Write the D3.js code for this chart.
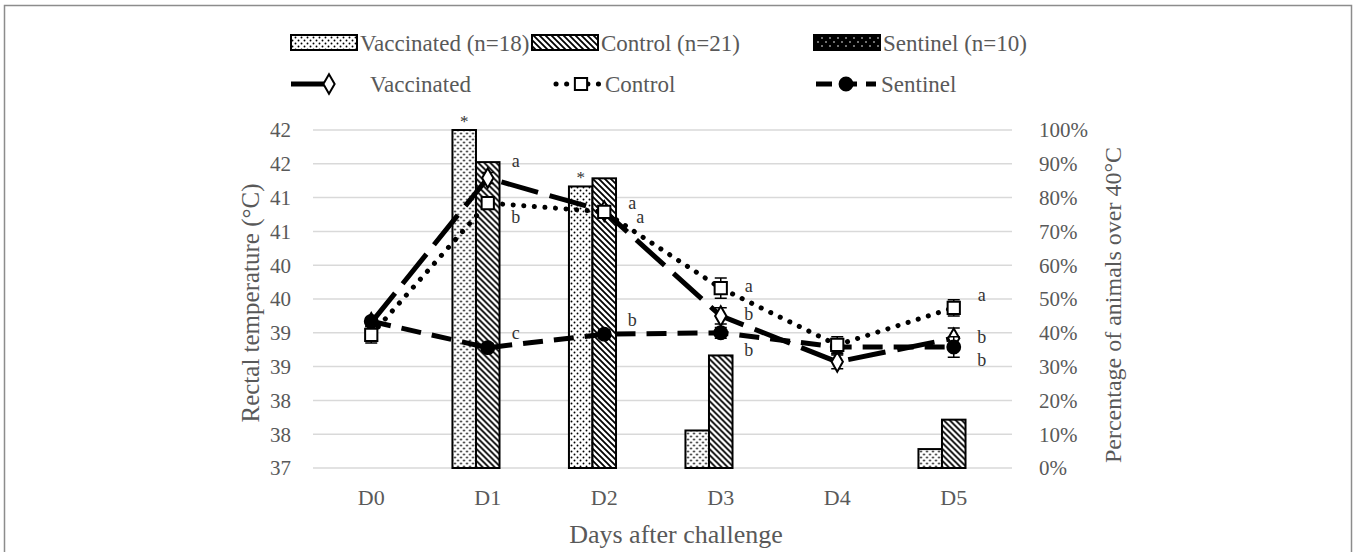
<!DOCTYPE html>
<html>
<head>
<meta charset="utf-8">
<script src="https://cdn.jsdelivr.net/npm/d3@7"></script>
<style>
  body { margin: 0; background: #fff; }
  svg { display: block; font-family: "Liberation Serif", "DejaVu Serif", serif; }
</style>
</head>
<body>
<svg id="chart" width="1354" height="552"></svg>
<script>
// data
const days = ['D0', 'D1', 'D2', 'D3', 'D4', 'D5'];
const groups = ['vacc', 'ctrl', 'sent'];

// % of animals over 40°C (right axis)
const pctVacc = [0, 100, 83.3, 11.1, 0, 5.6];
const pctCtrl = [0, 90.5, 85.7, 33.3, 0, 14.3];
const pctSent = [0, 0, 0, 0, 0, 0];

// mean rectal temperature (left axis)
const tempVacc = [39.15, 41.29, 40.8, 39.25, 38.57, 38.92];
const tempCtrl = [38.97, 40.92, 40.79, 39.66, 38.82, 39.37];
const tempSent = [39.17, 38.78, 38.98, 39.0, 38.79, 38.79];
const errVacc = [0.05, 0.08, 0.08, 0.12, 0.1, 0.15];
const errCtrl = [0.12, 0.08, 0.08, 0.15, 0.12, 0.12];
const errSent = [0.05, 0.06, 0.06, 0.08, 0.1, 0.15];

const leftTicks = [37, 37.5, 38, 38.5, 39, 39.5, 40, 40.5, 41, 41.5, 42];
const rightTicks = [0, 10, 20, 30, 40, 50, 60, 70, 80, 90, 100];

// significance letters: [day, temperature, text, x shift]
const letters = [
  ['D1', 41.55, 'a', 0], ['D1', 40.72, 'b', 0], ['D1', 39.0, 'c', 0],
  ['D2', 40.92, 'a', 0], ['D2', 40.72, 'a', 8], ['D2', 39.2, 'b', 0],
  ['D3', 39.7, 'a', 0], ['D3', 39.28, 'b', 0], ['D3', 38.75, 'b', 0],
  ['D5', 39.57, 'a', 0], ['D5', 38.94, 'b', 0], ['D5', 38.6, 'b', 0]
];
const stars = [['D1', 100], ['D2', 83.3]];

const grey = '#595959';
const svg = d3.select('#chart');

// outer frame
svg.append('rect')
  .attr('x', 4.5).attr('y', 5.5).attr('width', 1347).attr('height', 560)
  .attr('fill', 'none').attr('stroke', '#8c8c8c').attr('stroke-width', 1.5);

const plot = { left: 313, right: 1012, top: 130, bottom: 468 };

const x = d3.scaleBand().domain(days).range([plot.left, plot.right]).padding(0);
const xg = d3.scaleBand().domain(groups)
  .range([x.bandwidth() * 0.197, x.bandwidth() * 0.803]);
const yT = d3.scaleLinear().domain([37, 42]).range([plot.bottom, plot.top]);
const yP = d3.scaleLinear().domain([0, 100]).range([plot.bottom, plot.top]);
const cx = d => x(d) + x.bandwidth() / 2;

// patterns
const defs = svg.append('defs');
const pDots = defs.append('pattern').attr('id', 'dots')
  .attr('patternUnits', 'userSpaceOnUse').attr('width', 6).attr('height', 6);
pDots.append('rect').attr('width', 6).attr('height', 6).attr('fill', '#fff');
pDots.append('circle').attr('cx', 1.5).attr('cy', 1.5).attr('r', 0.95).attr('fill', '#000');
pDots.append('circle').attr('cx', 4.5).attr('cy', 4.5).attr('r', 0.95).attr('fill', '#000');

const pHatch = defs.append('pattern').attr('id', 'hatch')
  .attr('patternUnits', 'userSpaceOnUse').attr('width', 6).attr('height', 6);
pHatch.append('rect').attr('width', 6).attr('height', 6).attr('fill', '#fff');
pHatch.append('path').attr('d', 'M-1,-1L7,7M-1,5L1,7M5,-1L7,1')
  .attr('stroke', '#000').attr('stroke-width', 1.8);

const pSent = defs.append('pattern').attr('id', 'sentdots')
  .attr('patternUnits', 'userSpaceOnUse').attr('width', 8).attr('height', 8);
pSent.append('rect').attr('width', 8).attr('height', 8).attr('fill', '#000');
pSent.append('circle').attr('cx', 2).attr('cy', 2).attr('r', 0.8).attr('fill', '#fff');
pSent.append('circle').attr('cx', 6).attr('cy', 6).attr('r', 0.8).attr('fill', '#fff');

const fills = { vacc: 'url(#dots)', ctrl: 'url(#hatch)', sent: 'url(#sentdots)' };

// gridlines
svg.append('g').selectAll('line').data(rightTicks).join('line')
  .attr('x1', plot.left).attr('x2', plot.right)
  .attr('y1', d => yP(d)).attr('y2', d => yP(d))
  .attr('stroke', '#d9d9d9').attr('stroke-width', 1.5);

// left axis labels
svg.append('g').selectAll('text').data(leftTicks).join('text')
  .attr('x', 291).attr('y', d => yT(d)).attr('dy', '0.35em')
  .attr('text-anchor', 'end').attr('font-size', 21).attr('fill', grey)
  .text(d => d3.format('.0f')(d + 1e-9));

// right axis labels
svg.append('g').selectAll('text').data(rightTicks).join('text')
  .attr('x', 1039).attr('y', d => yP(d)).attr('dy', '0.35em')
  .attr('text-anchor', 'start').attr('font-size', 21).attr('fill', grey)
  .text(d => d + '%');

// x labels
svg.append('g').selectAll('text').data(days).join('text')
  .attr('x', d => cx(d)).attr('y', 497).attr('dy', '0.35em')
  .attr('text-anchor', 'middle').attr('font-size', 22).attr('fill', grey)
  .text(d => d);

// axis titles
svg.append('text').attr('x', 676).attr('y', 534).attr('dy', '0.35em')
  .attr('text-anchor', 'middle').attr('font-size', 26).attr('fill', grey)
  .text('Days after challenge');
svg.append('text')
  .attr('transform', `translate(250,${(plot.top + plot.bottom) / 2 + 4}) rotate(-90)`)
  .attr('dy', '0.35em').attr('text-anchor', 'middle').attr('font-size', 25).attr('fill', grey)
  .text('Rectal temperature (°C)');
svg.append('text')
  .attr('transform', `translate(1113,${(plot.top + plot.bottom) / 2 + 6}) rotate(-90)`)
  .attr('dy', '0.35em').attr('text-anchor', 'middle').attr('font-size', 24).attr('fill', grey)
  .text('Percentage of animals over 40°C');

// bars
const barRows = days.map((d, i) => ({ day: d, vacc: pctVacc[i], ctrl: pctCtrl[i], sent: pctSent[i] }));
svg.append('g').selectAll('g').data(barRows).join('g')
  .attr('transform', d => `translate(${x(d.day)},0)`)
  .selectAll('rect')
  .data(d => groups.map(k => ({ key: k, value: d[k] })).filter(v => v.value > 0))
  .join('rect')
  .attr('x', d => xg(d.key)).attr('width', xg.bandwidth())
  .attr('y', d => yP(d.value)).attr('height', d => plot.bottom - yP(d.value))
  .attr('fill', d => fills[d.key]).attr('stroke', '#000').attr('stroke-width', 2);

// lines (drawn vaccinated first so that the D0 markers stack as in the figure)
const series = [
  { key: 'vacc', values: tempVacc, err: errVacc, dash: '38,12', cap: 'butt', width: 5, marker: 'diamond' },
  { key: 'sent', values: tempSent, err: errSent, dash: '20,11', cap: 'butt', width: 5, marker: 'circle' },
  { key: 'ctrl', values: tempCtrl, err: errCtrl, dash: '0.1,10.5', cap: 'round', width: 5, marker: 'square' }
];
const line = d3.line().x(d => cx(d.day)).y(d => yT(d.v));

const markerPath = {
  circle: d3.symbol(d3.symbolCircle, 130),
  square: d3.symbol(d3.symbolSquare, 150),
  diamond: d3.symbol(d3.symbolDiamond, 110)
};
const markerStyle = sel => sel
  .attr('fill', d => d.marker === 'circle' ? '#000' : '#fff')
  .attr('stroke', '#000').attr('stroke-width', 2);

series.forEach(s => {
  const pts = days.map((d, i) => ({ day: d, v: s.values[i], e: s.err[i], marker: s.marker }));
  const g = svg.append('g');
  g.append('path').datum(pts).attr('d', line)
    .attr('fill', 'none').attr('stroke', '#000')
    .attr('stroke-width', s.width).attr('stroke-dasharray', s.dash)
    .attr('stroke-linecap', s.cap);
  // error bars
  g.selectAll('path.eb').data(pts).join('path').attr('class', 'eb')
    .attr('d', d => {
      const px = cx(d.day), y1 = yT(d.v - d.e), y2 = yT(d.v + d.e);
      return `M${px},${y1}V${y2}M${px - 6},${y1}H${px + 6}M${px - 6},${y2}H${px + 6}`;
    })
    .attr('stroke', '#000').attr('stroke-width', 1.5).attr('fill', 'none');
  g.selectAll('path.mk').data(pts).join('path').attr('class', 'mk')
    .attr('transform', d => `translate(${cx(d.day)},${yT(d.v)})`)
    .attr('d', d => markerPath[d.marker]())
    .call(markerStyle);
});

// letters
svg.append('g').selectAll('text').data(letters).join('text')
  .attr('x', d => cx(d[0]) + 28 + d[3])
  .attr('y', d => yT(d[1])).attr('dy', '0.35em')
  .attr('text-anchor', 'middle').attr('font-size', 18).attr('fill', '#333')
  .text(d => d[2]);

// stars above vaccinated bars
svg.append('g').selectAll('text').data(stars).join('text')
  .attr('x', d => x(d[0]) + xg('vacc') + xg.bandwidth() / 2)
  .attr('y', d => yP(d[1]) - 9).attr('dy', '0.35em')
  .attr('text-anchor', 'middle').attr('font-size', 17).attr('fill', '#333')
  .text('*');

// legend
const legend = svg.append('g').attr('font-size', 23).attr('fill', grey);
const barLegend = [
  { key: 'vacc', label: 'Vaccinated (n=18)', x: 291 },
  { key: 'ctrl', label: 'Control (n=21)', x: 532 },
  { key: 'sent', label: 'Sentinel (n=10)', x: 814 }
];
barLegend.forEach(b => {
  legend.append('rect').attr('x', b.x).attr('y', 35).attr('width', 66).attr('height', 15)
    .attr('fill', fills[b.key]).attr('stroke', '#000').attr('stroke-width', 2);
  legend.append('text').attr('x', b.x + 69).attr('y', 43).attr('dy', '0.35em').text(b.label);
});
const seriesBy = Object.fromEntries(series.map(s => [s.key, s]));
const lineLegend = [
  { s: seriesBy.vacc, label: 'Vaccinated', x: 291, tx: 370, len: 58, dash: '34,100', mx: 38 },
  { s: seriesBy.ctrl, label: 'Control', x: 556, tx: 605, len: 46, dash: '0.1,10.5', mx: 25 },
  { s: seriesBy.sent, label: 'Sentinel', x: 816, tx: 881, len: 60, dash: '16,9', mx: 30 }
];
lineLegend.forEach(l => {
  const yy = 84;
  legend.append('path').attr('d', `M${l.x},${yy}H${l.x + l.len}`)
    .attr('stroke', '#000').attr('stroke-width', l.s.width)
    .attr('stroke-dasharray', l.dash)
    .attr('stroke-linecap', l.s.cap).attr('fill', 'none');
  legend.append('path')
    .attr('transform', `translate(${l.x + l.mx},${yy})`)
    .attr('d', markerPath[l.s.marker]())
    .datum({ marker: l.s.marker }).call(markerStyle);
  legend.append('text').attr('x', l.tx).attr('y', yy).attr('dy', '0.35em').text(l.label);
});
</script>
</body>
</html>
